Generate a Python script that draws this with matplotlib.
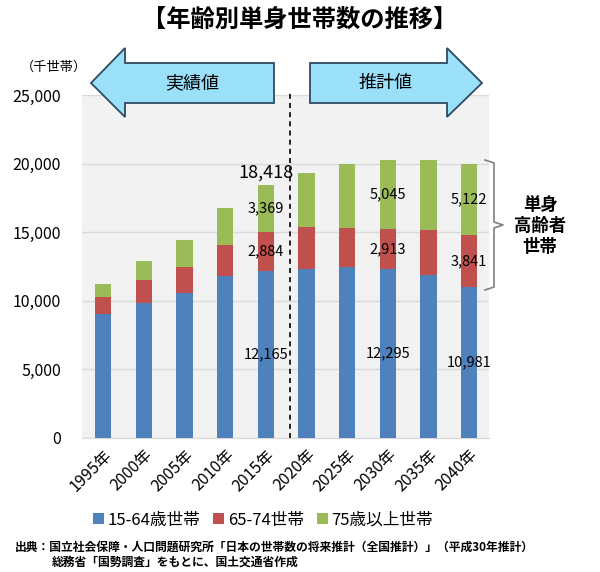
import matplotlib
matplotlib.use("Agg")
import matplotlib.pyplot as plt
from matplotlib.patches import Polygon
from matplotlib.lines import Line2D
import numpy as np

plt.rcParams['font.family'] = ['Noto Sans CJK JP', 'DejaVu Sans']

years = ["1995年", "2000年", "2005年", "2010年", "2015年",
         "2020年", "2025年", "2030年", "2035年", "2040年"]
age_15_64 = [9020, 9860, 10590, 11810, 12165, 12310, 12450, 12295, 11870, 10981]
age_65_74 = [1260, 1660, 1850, 2260, 2884, 3050, 2840, 2913, 3260, 3841]
age_75_up = [940, 1390, 2010, 2720, 3369, 3980, 4670, 5045, 5100, 5122]
series_names = ["15-64歳世帯", "65-74世帯", "75歳以上世帯"]
colors = ["#4f81bd", "#c0504d", "#9bbb59"]
yticks = [0, 5000, 10000, 15000, 20000, 25000]
labeled_years = ["2015年", "2030年", "2040年"]

W, H = 600, 572
fig = plt.figure(figsize=(W / 100, H / 100), dpi=100)
ax = fig.add_axes([82 / W, 1 - 438 / H, (489 - 82) / W, (438 - 95) / H])
ax.set_facecolor("#f2f2f2")

x = np.arange(len(years))
b1 = np.array(age_15_64)
b2 = np.array(age_65_74)
b3 = np.array(age_75_up)
bw = 0.4
ax.bar(x, b1, bw, color=colors[0], label=series_names[0], zorder=3)
ax.bar(x, b2, bw, bottom=b1, color=colors[1], label=series_names[1], zorder=3)
ax.bar(x, b3, bw, bottom=b1 + b2, color=colors[2], label=series_names[2], zorder=3)

ax.set_xlim(-0.52, 9.49)
ax.set_ylim(0, 25000)
ax.set_yticks(yticks)
ax.set_yticklabels([f"{v:,}" for v in yticks], fontsize=11.5)
ax.yaxis.grid(True, color="#d9d9d9", linewidth=1, zorder=0)
ax.set_axisbelow(True)
for s in ["top", "right", "left"]:
    ax.spines[s].set_visible(False)
ax.spines["bottom"].set_color("#d9d9d9")
ax.tick_params(axis="both", length=0)
ax.tick_params(axis="y", pad=15)
ax.set_xticks(x)
ax.set_xticklabels(years, rotation=45, ha="right", rotation_mode="anchor", fontsize=11.5)
ax.tick_params(axis="x", pad=6)

# divider line between actual and projected
ax.plot([4.6, 4.6], [0, 1.01], transform=ax.get_xaxis_transform(), color="black",
        linestyle=(0, (3, 2.5)), linewidth=1.2, clip_on=False, zorder=4)

# data labels
for yl in labeled_years:
    i = years.index(yl)
    ax.text(i, b1[i] / 2, f"{b1[i]:,}", ha="center", va="center", fontsize=10.5, zorder=5)
    ax.text(i, b1[i] + b2[i] / 2, f"{b2[i]:,}", ha="center", va="center", fontsize=10.5, zorder=5)
    ax.text(i, b1[i] + b2[i] + b3[i] / 2, f"{b3[i]:,}", ha="center", va="center", fontsize=10.5, zorder=5)
i15 = years.index("2015年")
tot15 = b1[i15] + b2[i15] + b3[i15]
ax.text(i15, tot15 + 300, f"{tot15:,}", ha="center", va="bottom", fontsize=13, zorder=5)

def fp(pts):
    return [(px / W, 1 - py / H) for px, py in pts]

# arrows
left_arrow = fp([(91, 83), (125, 48), (125, 63), (274, 63), (274, 103), (125, 103), (125, 117)])
right_arrow = fp([(310, 63), (447, 63), (447, 48), (482, 83), (447, 117), (447, 103), (310, 103)])
for pts in (left_arrow, right_arrow):
    fig.patches.append(Polygon(pts, closed=True, transform=fig.transFigure,
                               facecolor="#99e0f8", edgecolor="#2e4a62", linewidth=1.3, zorder=10))
fig.text(192 / W, 1 - 83 / H, "実績値", ha="center", va="center", fontsize=13, zorder=11)
fig.text(386 / W, 1 - 83 / H, "推計値", ha="center", va="center", fontsize=13, zorder=11)

# title and unit
fig.text(0.5, 1 - 20 / H, "【年齢別単身世帯数の推移】", ha="center", va="center",
         fontsize=17.5, fontweight="bold")
fig.text(54 / W, 1 - 67 / H, "（千世帯）", ha="center", va="center", fontsize=9.5)

# bracket
br = fp([(485, 160), (494, 163), (494, 222), (503, 225), (494, 228), (494, 287), (485, 290)])
fig.lines.append(Line2D([p[0] for p in br], [p[1] for p in br], transform=fig.transFigure,
                        color="#7f7f7f", linewidth=1.2))
fig.text(540 / W, 1 - 226 / H, "単身\n高齢者\n世帯", ha="center", va="center",
         fontsize=12.5, fontweight="bold", linespacing=1.25)

# legend
handles, labels = ax.get_legend_handles_labels()
leg = fig.legend(handles, labels, loc="center", bbox_to_anchor=(263 / W, 1 - 520 / H), ncol=3,
                 frameon=False, fontsize=12, handlelength=0.65, handleheight=0.65,
                 handletextpad=0.2, columnspacing=0.8)

# source
fig.text(15 / W, 1 - 547 / H, "出典：国立社会保障・人口問題研究所「日本の世帯数の将来推計（全国推計）」（平成30年推計）",
         ha="left", va="center", fontsize=8.5, fontweight="bold")
fig.text(52 / W, 1 - 562 / H, "総務省「国勢調査」をもとに、国土交通省作成",
         ha="left", va="center", fontsize=8.5, fontweight="bold")

fig.savefig("out.png", dpi=100)
